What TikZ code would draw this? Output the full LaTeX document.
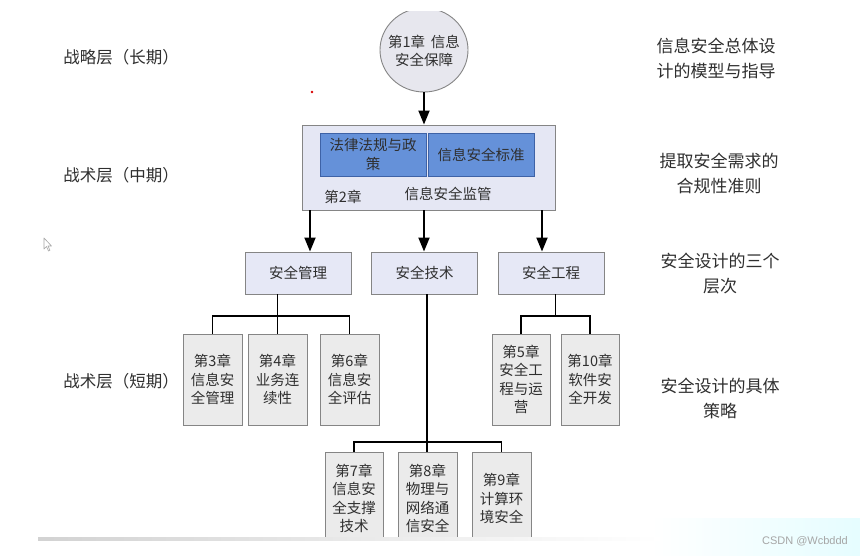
\documentclass[tikz,border=0pt]{standalone}
\usepackage{fontspec}
\setmainfont{Noto Sans CJK SC}
\newfontfamily\wmfont{Liberation Sans}
\usetikzlibrary{arrows.meta,shapes.geometric}
\definecolor{txt}{HTML}{2F2F2F}
\definecolor{bigfill}{HTML}{E5E7F4}
\definecolor{midfill}{HTML}{E6E8F6}
\definecolor{leaffill}{HTML}{EBEBEB}
\definecolor{boxline}{HTML}{858585}
\definecolor{bluefill}{HTML}{6591D9}
\definecolor{blueline}{HTML}{3E62A6}
\definecolor{circfill}{HTML}{E7E7EE}
\tikzset{
  boxtext/.style={font=\fontsize{14.5}{18.5}\selectfont, text=txt, align=center, inner sep=0pt},
  leafbox/.style={boxtext, draw=boxline, fill=leaffill, line width=0.9pt, minimum width=59pt, minimum height=91pt},
  midbox/.style={boxtext, draw=boxline, fill=midfill, line width=0.9pt, minimum width=106pt, minimum height=42pt},
  bluebox/.style={boxtext, draw=blueline, fill=bluefill, line width=0.9pt, minimum width=106pt, minimum height=43pt},
  sidelabel/.style={font=\fontsize{16.5}{25}\selectfont, text=txt, align=center, inner sep=0pt},
  rightlabel/.style={font=\fontsize{17}{25}\selectfont, text=txt, align=center, inner sep=0pt},
  conn/.style={line width=1.8pt, black},
  arr/.style={conn, -{Triangle[length=14pt,width=11pt]}},
}
\begin{document}
\begin{tikzpicture}[x=1pt,y=-1pt]
\useasboundingbox (0,0) rectangle (860,556);
\fill[white] (0,0) rectangle (860,556);

% watermark strip
\shade[left color=white, right color=blue!8!cyan!10] (650,518) rectangle (860,556);
\node[font=\wmfont\fontsize{11}{13}\selectfont, text=gray!70, anchor=east, inner sep=0pt] (wm) at (848,541) {CSDN @Wcbddd};

% left labels
\node[sidelabel] (l1) at (121,57) {战略层（长期）};
\node[sidelabel] (l2) at (121,175) {战术层（中期）};
\node[sidelabel] (l3) at (121,381) {战术层（短期）};

% right labels
\node[rightlabel] (r1) at (716,58) {信息安全总体设\\计的模型与指导};
\node[rightlabel] (r2) at (719,173) {提取安全需求的\\合规性准则};
\node[rightlabel] (r3) at (720,274) {安全设计的三个\\层次};
\node[rightlabel] (r4) at (720,398) {安全设计的具体\\策略};

% chapter 1 circle
\begin{scope}
\clip (0,12) rectangle (860,556);
\node[draw=boxline, fill=circfill, line width=0.9pt, ellipse, minimum width=88pt, minimum height=84pt, inner sep=0pt] (c1) at (424,50) {};
\end{scope}
\node[boxtext] (c1t) at (424,51) {第1章\ \,信息\\安全保障};

% chapter 2 big box
\node[draw=boxline, fill=bigfill, line width=0.9pt, minimum width=253pt, minimum height=85pt, inner sep=0pt] (big) at (428.5,167.5) {};
\node[bluebox] (law) at (373,154.5) {法律法规与政\\策};
\node[bluebox] (std) at (481,154.5) {信息安全标准};
\node[boxtext] (ch2) at (343,197) {第2章};
\node[boxtext] (sup) at (448,194) {信息安全监管};

\draw[arr] (c1.south) -- (big.north -| c1.south);

% three levels
\node[midbox] (mgmt) at (298,273) {安全管理};
\node[midbox] (tech) at (424.5,273) {安全技术};
\node[midbox] (eng) at (551,273) {安全工程};

\coordinate (a1) at (310,0);
\coordinate (a2) at (424,0);
\coordinate (a3) at (542,0);
\draw[arr] (big.south -| a1) -- (mgmt.north -| a1);
\draw[arr] (big.south -| a2) -- (tech.north -| a2);
\draw[arr] (big.south -| a3) -- (eng.north -| a3);

% management leaves
\node[leafbox] (c3) at (212.5,379.5) {第3章\\信息安\\全管理};
\node[leafbox] (c4) at (277.5,379.5) {第4章\\业务连\\续性};
\node[leafbox] (c6) at (349.5,379.5) {第6章\\信息安\\全评估};
\draw[conn] (c3.north) -- (c3.north |- 0,316) -| (c6.north);
\draw[conn] (mgmt.south -| c4.north) -- (c4.north);

% engineering leaves
\node[leafbox, minimum width=58pt] (c5) at (521,379.5) {第5章\\安全工\\程与运\\营};
\node[leafbox, minimum width=58pt] (c10) at (590,379.5) {第10章\\软件安\\全开发};
\coordinate (ej) at (555.5,316);
\draw[conn] (c5.north) -- (c5.north |- ej) -| (c10.north);
\draw[conn] (eng.south -| ej) -- (ej);

% technology leaves
\node[leafbox, minimum width=58pt, minimum height=93pt] (c7) at (354,498.5) {第7章\\信息安\\全支撑\\技术};
\node[leafbox, minimum height=93pt] (c8) at (427.5,498.5) {第8章\\物理与\\网络通\\信安全};
\node[leafbox, minimum height=93pt] (c9) at (501.5,498.5) {第9章\\计算环\\境安全};
\coordinate (tj) at (427,442);
\draw[conn] (c7.north) -- (c7.north |- tj) -| (c9.north);
\draw[conn] (tech.south -| tj) -- (c8.north -| tj);

% bottom page edge
\fill[white] (0,541) rectangle (640,556);
\shade[left color=gray!35, right color=white] (38,537) rectangle (660,540.5);

% red dot and cursor
\fill[red!85!black] (312,92) circle (1.4pt);
\draw[gray!70, line width=0.6pt, line join=round] (44,238) -- (44,249) -- (46.5,246.5) -- (48.5,251) -- (50,250.3) -- (48,246) -- (51.5,246) -- cycle;
\end{tikzpicture}
\end{document}
